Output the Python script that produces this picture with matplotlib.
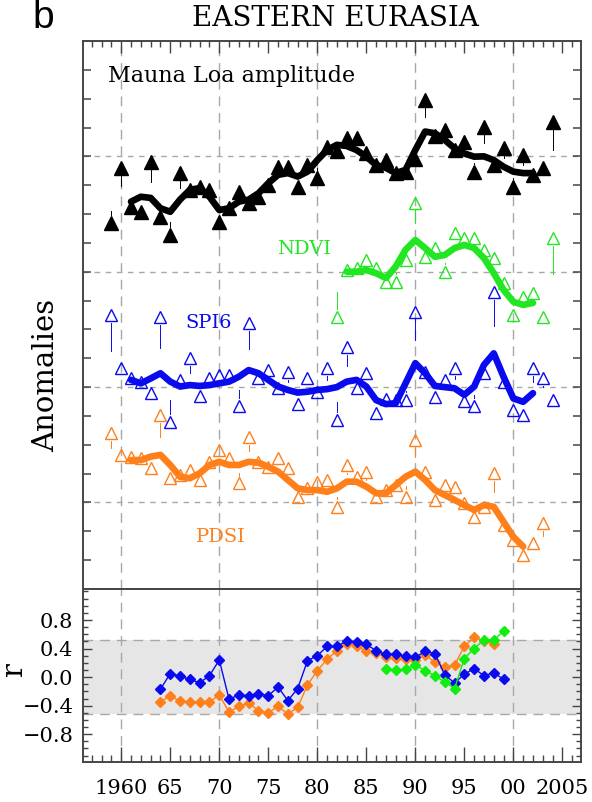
import numpy as np
import matplotlib
matplotlib.use("Agg")
import matplotlib.pyplot as plt
from matplotlib.ticker import MultipleLocator, FixedLocator, NullFormatter

plt.rcParams['font.family'] = 'DejaVu Serif'

# ---- top panel: stacked anomalies (1 unit = one y tick) ----
ml_years = np.arange(1959, 2005)
ml_raw = [12.69, 14.6, 13.25, 13.07, 14.8, 12.9, 12.27, 14.42, 13.84, 13.95,
          13.84, 12.73, 13.2, 13.77, 13.4, 13.6, 14.0, 14.64, 14.64, 13.95,
          14.7, 14.25, 15.34, 15.2, 15.64, 15.64, 15.1, 14.7, 14.87, 14.42,
          14.47, 14.9, 16.96, 15.7, 15.92, 15.22, 15.5, 14.47, 16.03, 14.7,
          15.28, 13.95, 15.05, 14.36, 14.6, 16.2]
ml_fit_years = np.arange(1961, 2003)
ml_fit = [13.43, 13.6, 13.56, 13.2, 13.08, 13.5, 13.84, 13.9, 13.6, 13.14,
          13.2, 13.43, 13.5, 13.72, 14.07, 14.36, 14.42, 14.3, 14.47, 14.87,
          15.22, 15.4, 15.36, 15.22, 14.99, 14.7, 14.6, 14.42, 14.53, 15.22,
          15.86, 15.8, 15.57, 15.28, 15.1, 14.99, 15.0, 14.87, 14.64, 14.47,
          14.42, 14.42]

ndvi_years = np.arange(1982, 2005)
ndvi_raw = [9.44, 11.06, 11.13, 11.41, 11.13, 10.66, 10.66, 11.41, 13.4, 11.52,
            11.82, 11.0, 12.34, 12.17, 12.17, 11.76, 11.47, 10.6, 9.5, 10.14,
            10.26, 9.44, 12.17]
ndvi_fit_years = np.arange(1983, 2003)
ndvi_fit = [11.0, 11.0, 11.06, 10.95, 10.78, 11.18, 11.76, 12.1, 11.82, 11.52,
            11.58, 11.82, 11.93, 11.82, 11.47, 10.95, 10.37, 9.96, 9.85, 9.92]

spi_years = np.arange(1959, 2005)
spi_raw = [9.5, 7.65, 7.3, 7.19, 6.79, 9.44, 5.8, 7.25, 8.0, 6.7,
           7.3, 7.42, 7.42, 6.35, 9.21, 7.3, 7.59, 6.96, 7.53, 6.4,
           7.3, 6.84, 7.65, 5.86, 8.4, 6.96, 7.48, 6.09, 6.6, 6.55,
           6.55, 9.62, 7.53, 6.65, 7.25, 7.65, 6.52, 6.35, 7.5, 10.3,
           7.19, 6.2, 6.03, 7.65, 7.3, 6.55]
spi_fit_years = np.arange(1961, 2003)
spi_fit = [7.25, 7.13, 7.3, 7.48, 7.19, 7.02, 7.07, 7.04, 7.07, 7.13,
           7.19, 7.36, 7.59, 7.48, 7.25, 7.02, 6.9, 6.81, 6.84, 6.9,
           6.93, 7.0, 7.19, 7.25, 7.02, 6.55, 6.41, 6.44, 7.13, 7.83,
           7.48, 7.04, 7.0, 6.96, 6.73, 7.02, 7.77, 8.17, 7.36, 6.61,
           6.49, 6.79]

pdsi_years = np.arange(1959, 2004)
pdsi_raw = [5.40, 4.65, 4.59, 4.53, 4.19, 6.03, 3.84, 3.95, 4.13, 3.78,
            4.41, 4.82, 4.53, 3.66, 5.28, 4.41, 4.24, 4.53, 4.19, 3.2,
            3.49, 3.72, 3.78, 2.85, 4.3, 3.89, 4.07, 3.2, 3.43, 3.6,
            3.2, 5.17, 4.07, 3.09, 3.6, 3.55, 2.97, 2.51, 2.85, 4.01,
            2.22, 1.7, 1.18, 1.58, 2.28]
pdsi_fit_years = np.arange(1961, 2002)
pdsi_fit = [4.47, 4.47, 4.59, 4.65, 4.3, 3.89, 3.84, 4.01, 4.3, 4.41,
            4.3, 4.3, 4.41, 4.38, 4.24, 4.07, 3.78, 3.49, 3.43, 3.43,
            3.37, 3.49, 3.72, 3.72, 3.55, 3.32, 3.32, 3.6, 3.89, 4.07,
            3.78, 3.43, 3.26, 3.09, 2.91, 2.74, 2.91, 2.85, 2.33, 1.81,
            1.47]

# ---- bottom panel: running correlations ----
r_years = np.arange(1964, 2000)
r_spi = [-0.17, 0.05, 0.01, -0.03, -0.08, 0.02, 0.24, -0.31, -0.25, -0.26,
         -0.23, -0.26, -0.14, -0.33, -0.16, 0.23, 0.30, 0.43, 0.43, 0.51,
         0.49, 0.46, 0.37, 0.32, 0.32, 0.29, 0.28, 0.36, 0.33, 0.03,
         -0.08, 0.04, 0.12, 0.02, 0.06, -0.03]
r_pdsi_years = np.arange(1964, 1999)
r_pdsi = [-0.35, -0.26, -0.34, -0.35, -0.35, -0.35, -0.25, -0.49, -0.41, -0.36,
          -0.47, -0.50, -0.41, -0.52, -0.42, -0.11, 0.09, 0.25, 0.37, 0.46,
          0.43, 0.37, 0.34, 0.28, 0.27, 0.26, 0.24, 0.31, 0.21, 0.14,
          0.17, 0.43, 0.56, 0.50, 0.47]
r_ndvi_years = np.arange(1987, 2000)
r_ndvi = [0.12, 0.10, 0.11, 0.17, 0.09, 0.02, -0.07, -0.16, 0.26, 0.40,
          0.52, 0.52, 0.64]
r_signif = 0.52

xtick_years = np.arange(1960, 2006, 5)
xtick_labels = ['1960', '65', '70', '75', '80', '85', '90', '95', '00', '2005']
r_tick_vals = [0.8, 0.4, 0.0, -0.4, -0.8]
r_tick_labels = ['0.8', '0.4', '0.0', '\u22120.4', '\u22120.8']

black = '#000000'
green = '#22e622'
blue = '#0a0aee'
orange = '#ff7f1a'
grid_c = '#a8a8a8'
spine_c = '#454545'


def draw_series(ax, years, raw, fit_years, fit, color, filled):
    raw = np.asarray(raw, dtype=float)
    ref = np.interp(years, fit_years, fit)
    for x, y, r in zip(years, raw, ref):
        d = r - y
        if abs(d) > 0.5:
            s = np.sign(d)
            ax.plot([x, x], [y + s * 0.27, y + 0.55 * d], color=color, lw=0.7,
                    zorder=3)
    ax.plot(fit_years, fit, color=color, lw=4.8, solid_joinstyle='round',
            solid_capstyle='round', zorder=4)
    ax.plot(years, raw, ls='none', marker='^', ms=9.5 if filled else 9,
            mfc=color if filled else 'none', mec=color, mew=1.0, zorder=5)


fig = plt.figure(figsize=(5.92, 8.02), dpi=100)
W, H = 592.0, 802.0
ax1 = fig.add_axes([83 / W, 1 - 589 / H, 498 / W, 548 / H])
ax2 = fig.add_axes([83 / W, 1 - 762 / H, 498 / W, 173 / H])

for ax in (ax1, ax2):
    ax.set_xlim(1956.1, 2006.9)
    for sp in ax.spines.values():
        sp.set_color(spine_c)
        sp.set_linewidth(1.4)
    for yr in range(1960, 2001, 10):
        ax.axvline(yr, color=grid_c, lw=1.0, dashes=(7, 5), zorder=1)

# top panel
ax1.set_ylim(0, 19)
for g in (3, 7, 11, 15):
    ax1.axhline(g, color=grid_c, lw=1.0, dashes=(4, 4), zorder=1)

draw_series(ax1, ml_years, ml_raw, ml_fit_years, ml_fit, black, True)
draw_series(ax1, ndvi_years, ndvi_raw, ndvi_fit_years, ndvi_fit, green, False)
draw_series(ax1, spi_years, spi_raw, spi_fit_years, spi_fit, blue, False)
draw_series(ax1, pdsi_years, pdsi_raw, pdsi_fit_years, pdsi_fit, orange, False)

ax1.text(1958.7, 17.8, 'Mauna Loa amplitude', fontsize=16, color=black,
         va='center', ha='left')
ax1.text(1978.6, 11.8, 'NDVI', fontsize=14, color=green, va='center',
         ha='center')
ax1.text(1968.9, 9.23, 'SPI6', fontsize=14, color=blue, va='center',
         ha='center')
ax1.text(1970.2, 1.8, 'PDSI', fontsize=14, color=orange, va='center',
         ha='center')

ax1.yaxis.set_major_locator(FixedLocator(range(1, 19)))
ax1.yaxis.set_major_formatter(NullFormatter())
ax1.tick_params(axis='y', direction='in', length=6, width=1.1, left=True,
                right=True, color=spine_c)
ax1.xaxis.set_major_locator(MultipleLocator(5))
ax1.xaxis.set_minor_locator(MultipleLocator(1))
ax1.xaxis.set_major_formatter(NullFormatter())
ax1.tick_params(axis='x', which='both', direction='in', top=True,
                bottom=False, labelbottom=False, color=spine_c, width=1.0)
ax1.tick_params(axis='x', which='major', length=8.5)
ax1.tick_params(axis='x', which='minor', length=4.5)
ax1.set_ylabel('Anomalies', fontsize=21)
ax1.yaxis.set_label_coords(-0.045, 0.39)

# bottom panel
ax2.set_ylim(-1.19, 1.235)
ax2.axhspan(-r_signif, r_signif, color='#e6e6e6', lw=0, zorder=0)
for v in (-r_signif, r_signif):
    ax2.axhline(v, color=grid_c, lw=1.0, dashes=(7, 5), zorder=1)

ax2.plot(r_pdsi_years, r_pdsi, '-D', color=orange, ms=5.3, lw=1.0, zorder=3)
ax2.plot(r_years, r_spi, '-D', color=blue, ms=5.3, lw=1.0, zorder=4)
ax2.plot(r_ndvi_years, r_ndvi, '-D', color='#10ee10', ms=5.3, lw=1.0,
         zorder=5)

ax2.set_xticks(xtick_years)
ax2.set_xticklabels(xtick_labels, fontsize=15)
ax2.xaxis.set_minor_locator(MultipleLocator(1))
ax2.tick_params(axis='x', which='both', direction='in', bottom=True,
                top=False, color=spine_c, width=1.0, pad=12)
ax2.tick_params(axis='x', which='major', length=11)
ax2.tick_params(axis='x', which='minor', length=5)
ax2.set_yticks(r_tick_vals)
ax2.set_yticklabels(r_tick_labels, fontsize=15)
ax2.yaxis.set_minor_locator(MultipleLocator(0.1))
ax2.tick_params(axis='y', which='both', direction='in', left=True,
                right=True, color=spine_c, width=1.0, pad=7)
ax2.tick_params(axis='y', which='major', length=6.5)
ax2.tick_params(axis='y', which='minor', length=3.6)
ax2.set_ylabel('r', fontsize=21)
ax2.yaxis.set_label_coords(-0.11, 0.54)

fig.text(335 / W, 1 - 19 / H, 'EASTERN EURASIA', fontsize=20, ha='center',
         va='center')
fig.text(43 / W, 1 - 18 / H, 'b', fontsize=28, ha='center', va='center',
         family='Liberation Sans')

fig.savefig('out.png', dpi=100)
